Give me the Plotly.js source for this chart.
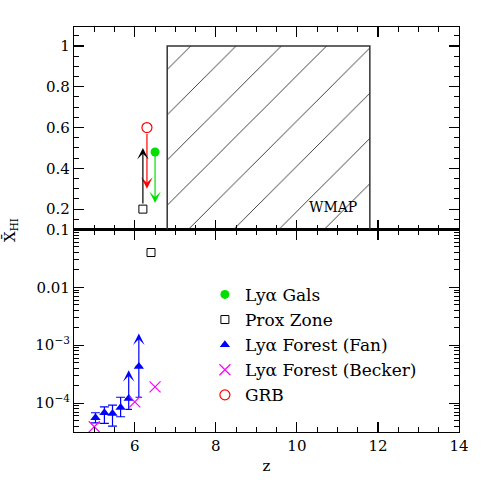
<!DOCTYPE html>
<html>
<head>
<meta charset="utf-8">
<script src="https://cdn.plot.ly/plotly-3.0.1.min.js"></script>
<style>html,body{margin:0;padding:0;background:#fff}</style>
</head>
<body>
<div id="chart" style="width:485px;height:485px"></div>
<script>
// ---------- data ----------
// Top panel (linear x_HI)
const wmapZ = [6.8, 11.8];          // WMAP redshift range
const wmapX = [0.1, 1.0];           // WMAP x_HI range
const galsZ = [6.5];   const galsX = [0.48];  const galsArrowTo = [0.23];
const proxTopZ = [6.2]; const proxTopX = [0.2]; const proxTopArrowTo = [0.5];
const grbZ = [6.3];    const grbX = [0.6];    const grbArrowTo = [0.3];
// Bottom panel (log x_HI)
const proxBotZ = [6.4]; const proxBotX = [0.04];
const fanZ  = [5.03, 5.25, 5.45, 5.65, 5.85, 6.10];
const fanX  = [5.6e-5, 6.8e-5, 6.6e-5, 8.4e-5, 1.2e-4, 4.3e-4];
const fanHi = [6.8e-5, 8.6e-5, 9.2e-5, 1.26e-4, null, null];
const fanLo = [4.55e-5, 4.45e-5, 4.0e-5, 5.8e-5, 7.8e-5, 1.26e-4];
const fanArrowTo = [null, null, null, null, 3.7e-4, 1.6e-3];
const beckerZ = [5.0, 6.0, 6.5];
const beckerX = [3.9e-5, 1.05e-4, 1.9e-4];
const xTickVals = [6, 8, 10, 12, 14];
const topTickVals = [0.2, 0.4, 0.6, 0.8, 1];
const topTickText = ['0.2', '0.4', '0.6', '0.8', '1'];
const botTickVals = [1e-4, 1e-3, 1e-2, 1e-1];
const botTickText = ['10<sup>\u22124</sup>', '10<sup>\u22123</sup>', '0.01', '0.1'];
const legendNames = ['Ly\u03b1 Gals', 'Prox Zone', 'Ly\u03b1 Forest (Fan)', 'Ly\u03b1 Forest (Becker)', 'GRB'];

// ---------- styling ----------
const FONT = 'DejaVu Serif';
const BLUE = '#0000ff', GREEN = '#00e000', RED = '#ff0000', MAG = '#ff00ff';

const idx2 = [], idxL = [];
fanHi.forEach((v, i) => (v !== null ? idx2 : idxL).push(i));
const pick = (arr, ids) => ids.map(i => arr[i]);

const traces = [];
// WMAP hatched fill
traces.push({
  x: [wmapZ[0], wmapZ[1], wmapZ[1], wmapZ[0], wmapZ[0]],
  y: [wmapX[0], wmapX[0], wmapX[1], wmapX[1], wmapX[0]],
  xaxis: 'x2', yaxis: 'y2', mode: 'lines', fill: 'toself',
  line: {width: 0, color: 'rgba(0,0,0,0)'},
  fillcolor: 'rgba(0,0,0,0)',
  fillpattern: {shape: '/', size: 32, solidity: 0.025, fgcolor: '#111', bgcolor: 'rgba(0,0,0,0)'},
  showlegend: false, hoverinfo: 'skip'
});
// WMAP outline (three sides)
traces.push({
  x: [wmapZ[0], wmapZ[0], wmapZ[1], wmapZ[1]],
  y: [wmapX[0], wmapX[1], wmapX[1], wmapX[0]],
  xaxis: 'x2', yaxis: 'y2', mode: 'lines',
  line: {color: '#333', width: 1.5},
  showlegend: false, hoverinfo: 'skip'
});
// error bars (two-sided)
traces.push({
  x: pick(fanZ, idx2), y: pick(fanX, idx2), mode: 'markers', xaxis: 'x', yaxis: 'y',
  marker: {size: 1, color: 'rgba(0,0,0,0)'},
  error_y: {type: 'data', symmetric: false,
    array: idx2.map(i => fanHi[i] - fanX[i]),
    arrayminus: idx2.map(i => fanX[i] - fanLo[i]),
    color: BLUE, thickness: 1.2, width: 4.5},
  showlegend: false, hoverinfo: 'skip'
});
// error bars (lower only; upper limits are arrows)
traces.push({
  x: pick(fanZ, idxL), y: pick(fanX, idxL), mode: 'markers', xaxis: 'x', yaxis: 'y',
  marker: {size: 1, color: 'rgba(0,0,0,0)'},
  error_y: {type: 'data', symmetric: false,
    array: idxL.map(() => 0),
    arrayminus: idxL.map(i => fanX[i] - fanLo[i]),
    color: BLUE, thickness: 1.2, width: 3.3},
  showlegend: false, hoverinfo: 'skip'
});
// Ly-alpha gals (top)
traces.push({x: galsZ, y: galsX, xaxis: 'x2', yaxis: 'y2', mode: 'markers', name: legendNames[0],
  marker: {symbol: 'circle', size: 9, color: GREEN}});
// Prox zone (legend entry + top + bottom points)
traces.push({x: [null], y: [null], xaxis: 'x', yaxis: 'y', mode: 'markers', name: legendNames[1],
  marker: {symbol: 'square-open', size: 8, color: '#000', line: {width: 1}}, showlegend: true});
traces.push({x: proxTopZ, y: proxTopX, xaxis: 'x2', yaxis: 'y2', mode: 'markers', showlegend: false,
  marker: {symbol: 'square-open', size: 8, color: '#000', line: {width: 1}}});
traces.push({x: proxBotZ, y: proxBotX, xaxis: 'x', yaxis: 'y', mode: 'markers', showlegend: false,
  marker: {symbol: 'square-open', size: 8, color: '#000', line: {width: 1}}});
// Fan
traces.push({x: fanZ, y: fanX, xaxis: 'x', yaxis: 'y', mode: 'markers', name: legendNames[2],
  marker: {symbol: 'triangle-up', size: 9, color: BLUE}});
// Becker
traces.push({x: beckerZ, y: beckerX, xaxis: 'x', yaxis: 'y', mode: 'markers', name: legendNames[3],
  marker: {symbol: 'x-thin-open', size: 11, color: MAG, line: {width: 1.2, color: MAG}}});
// GRB
traces.push({x: grbZ, y: grbX, xaxis: 'x2', yaxis: 'y2', mode: 'markers', name: legendNames[4],
  marker: {symbol: 'circle-open', size: 10, color: RED, line: {width: 1.2}}});

// ---------- arrows & labels ----------
const annotations = [];
const AH = {arrowhead: 3, arrowsize: 1.6, arrowwidth: 1.2};
function arrowTop(z, from, to, color, standoff) {
  annotations.push(Object.assign({x: z, y: to, ax: z, ay: from, xref: 'x2', yref: 'y2', axref: 'x2', ayref: 'y2',
    text: '', showarrow: true, arrowcolor: color, startstandoff: standoff || 0}, AH));
}
grbZ.forEach((z, i) => arrowTop(z, grbX[i], grbArrowTo[i], RED, 5));
galsZ.forEach((z, i) => arrowTop(z, galsX[i], galsArrowTo[i], GREEN, 0));
proxTopZ.forEach((z, i) => arrowTop(z, proxTopX[i], proxTopArrowTo[i], '#000', 4));
fanZ.forEach((z, i) => {
  if (fanArrowTo[i] === null) return;
  annotations.push(Object.assign({x: z, y: Math.log10(fanArrowTo[i]), ax: z, ay: Math.log10(fanX[i]),
    xref: 'x', yref: 'y', axref: 'x', ayref: 'y', text: '', showarrow: true, arrowcolor: BLUE}, AH));
});
annotations.push({x: 10.9, y: 0.21, xref: 'x2', yref: 'y2', text: 'WMAP', showarrow: false,
  font: {family: FONT, size: 14, color: '#000'}});
annotations.push({x: -0.165, y: 0.5, xref: 'paper', yref: 'paper', xanchor: 'center', yanchor: 'middle',
  text: 'X\u0304<sub>HI</sub>', textangle: -90, showarrow: false, font: {family: FONT, size: 15, color: '#000'}});

// ---------- axes ----------
const minorLog = [];
for (let d = -5; d <= -1; d++) for (let k = 2; k <= 9; k++) minorLog.push(k * Math.pow(10, d));
const axCommon = {
  showline: true, linecolor: '#000', linewidth: 1.1, mirror: 'allticks',
  ticks: 'inside', ticklen: 10, tickwidth: 1.1, tickcolor: '#000',
  showgrid: false, zeroline: false,
  tickfont: {family: FONT, size: 15, color: '#000'}
};
const minorStyle = {ticks: 'inside', ticklen: 5, tickwidth: 1, tickcolor: '#000'};
const layout = {
  width: 485, height: 485,
  margin: {l: 74, r: 26, t: 27, b: 53},
  paper_bgcolor: '#fff', plot_bgcolor: '#fff',
  font: {family: FONT, color: '#000'},
  showlegend: true,
  legend: {x: 0.34, y: 0.383, xanchor: 'left', yanchor: 'top', bgcolor: 'rgba(0,0,0,0)',
    font: {family: FONT, size: 17, color: '#000'}, traceorder: 'normal'},
  xaxis: Object.assign({}, axCommon, {anchor: 'y', domain: [0, 1], range: [4.5, 14],
    tickmode: 'array', tickvals: xTickVals,
    minor: Object.assign({dtick: 0.5, tick0: 0}, minorStyle),
    title: {text: 'z', font: {family: FONT, size: 15, color: '#000'}, standoff: 6}}),
  xaxis2: Object.assign({}, axCommon, {anchor: 'y2', domain: [0, 1], range: [4.5, 14], matches: 'x',
    tickmode: 'array', tickvals: xTickVals, showticklabels: false,
    minor: Object.assign({dtick: 0.5, tick0: 0}, minorStyle)}),
  yaxis: Object.assign({}, axCommon, {anchor: 'x', domain: [0, 0.5], type: 'log', range: [-4.5, -1],
    tickmode: 'array', tickvals: botTickVals, ticktext: botTickText,
    minor: Object.assign({tickmode: 'array', tickvals: minorLog}, minorStyle)}),
  yaxis2: Object.assign({}, axCommon, {anchor: 'x2', domain: [0.5, 1], range: [0.1, 1.093],
    tickmode: 'array', tickvals: topTickVals, ticktext: topTickText,
    minor: Object.assign({dtick: 0.05, tick0: 0}, minorStyle)}),
  annotations: annotations
};
Plotly.newPlot('chart', traces, layout, {staticPlot: true, displayModeBar: false});
</script>
</body>
</html>
